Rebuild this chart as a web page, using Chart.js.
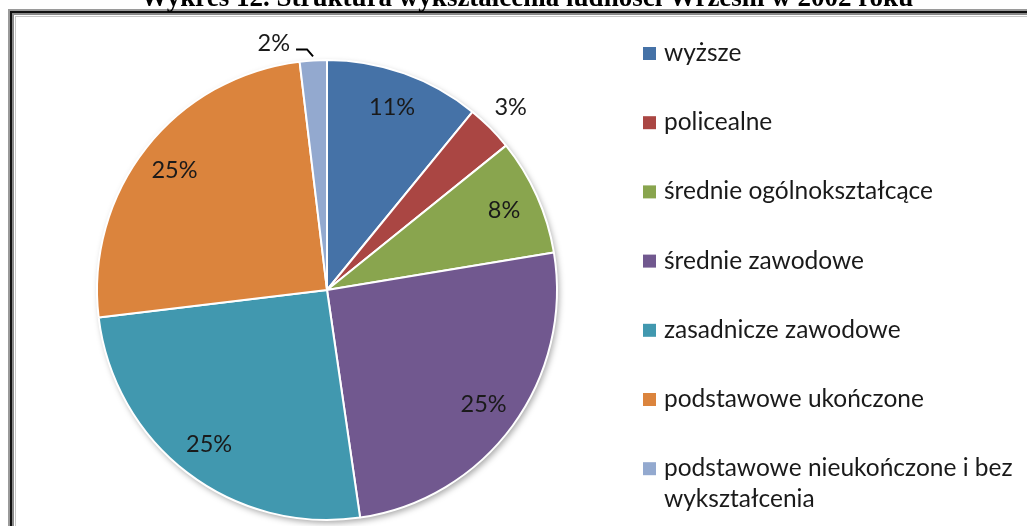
<!DOCTYPE html>
<html>
<head>
<meta charset="utf-8">
<script src="https://cdn.jsdelivr.net/npm/chart.js@4/dist/chart.umd.min.js"></script>
<style>
  html, body { margin: 0; padding: 0; background: #fff; overflow: hidden; }
  #wrap { position: absolute; left: 0; top: 0; width: 1027px; height: 526px; }
</style>
</head>
<body>
<div id="wrap"><canvas id="chart_edu" width="1027" height="526"></canvas></div>
<script>
// ----------------------- data -----------------------

const categories = [
    "wyższe",
    "policealne",
    "średnie ogólnokształcące",
    "średnie zawodowe",
    "zasadnicze zawodowe",
    "podstawowe ukończone",
    "podstawowe nieukończone i bez wykształcenia"
];
const shares = [10.9, 3.3, 8.2, 25.3, 25.4, 25.0, 1.9];
const sliceColors = ["#4572A7", "#AA4643", "#89A54E", "#71588F", "#4198AF", "#DB843D", "#93A9CF"];
const titleText = "Wykres 12. Struktura wykształcenia ludności Wrześni w 2002 roku";

const labelFont = "23.5px Lato";
const legendFont = "24.5px Lato";

// ----------------------- plugins -----------------------

// frame + title behind everything
const framePlugin = {
    id: "frame",
    beforeDraw(chart) {
        const ctx = chart.ctx;
        const w = chart.width, h = chart.height;
        ctx.save();
        ctx.fillStyle = "#fff";
        ctx.fillRect(0, 0, w, h);
        // double frame
        ctx.fillStyle = "#9a9a9a";
        ctx.fillRect(8, 9, w, 2);
        ctx.fillRect(8, 9, 2, h);
        ctx.fillStyle = "#111";
        ctx.fillRect(10, 11, w, 2);
        ctx.fillRect(10, 11, 2, h);
        ctx.fillStyle = "#8a8a8a";
        ctx.fillRect(12, 13, w, 2);
        ctx.fillRect(12, 13, 2, h);
        ctx.fillStyle = "#c8c8c8";
        ctx.fillRect(15, 16, w, 1);
        ctx.fillRect(15, 16, 1, h);
        // title (cut by top edge)
        ctx.fillStyle = "#000";
        ctx.font = "bold 27px 'Liberation Serif'";
        ctx.textAlign = "center";
        ctx.textBaseline = "alphabetic";
        ctx.fillText(titleText, 527, 6);
        ctx.restore();
    },
    beforeDatasetsDraw(chart) {
        // soft shadow under the pie
        const arc = chart.getDatasetMeta(0).data[0];
        if (!arc) return;
        const ctx = chart.ctx;
        ctx.save();
        ctx.shadowColor = "rgba(0,0,0,0.35)";
        ctx.shadowBlur = 6;
        ctx.shadowOffsetX = 2;
        ctx.shadowOffsetY = 3;
        ctx.fillStyle = "#fff";
        ctx.beginPath();
        ctx.arc(arc.x, arc.y, arc.outerRadius, 0, Math.PI * 2);
        ctx.fill();
        ctx.restore();
    }
};

// percentage labels on / beside slices
const pctLabelPlugin = {
    id: "pctLabels",
    afterDatasetsDraw(chart) {
        const ctx = chart.ctx;
        const meta = chart.getDatasetMeta(0);
        const vals = chart.data.datasets[0].data;
        const total = vals.reduce((s, v) => s + v, 0);
        ctx.save();
        ctx.font = labelFont;
        ctx.fillStyle = "#1a1a1a";
        ctx.textBaseline = "middle";
        meta.data.forEach((arc, i) => {
            const pct = Math.round(vals[i] / total * 100) + "%";
            const mid = (arc.startAngle + arc.endAngle) / 2;
            const r = arc.outerRadius;
            if (vals[i] >= 5) {
                ctx.textAlign = "center";
                ctx.fillText(pct, arc.x + Math.cos(mid) * (r - 36), arc.y + Math.sin(mid) * (r - 36));
            } else if (vals[i] >= 2.5) {
                ctx.textAlign = "center";
                ctx.fillText(pct, arc.x + Math.cos(mid) * (r + 29), arc.y + Math.sin(mid) * (r + 29));
            } else {
                // leader line to the left
                const x0 = arc.x + Math.cos(mid) * (r + 4);
                const y0 = arc.y + Math.sin(mid) * (r + 4);
                const x1 = x0 - 6, y1 = y0 - 7;
                const x2 = x1 - 11;
                ctx.strokeStyle = "#000";
                ctx.lineWidth = 2;
                ctx.beginPath();
                ctx.moveTo(x0, y0);
                ctx.lineTo(x1, y1);
                ctx.lineTo(x2, y1);
                ctx.stroke();
                ctx.textAlign = "right";
                ctx.fillText(pct, x2 - 6, y1 - 6);
            }
        });
        ctx.restore();
    }
};

// legend on the right, wrapped like the original
const legendPlugin = {
    id: "sideLegend",
    afterDraw(chart) {
        const ctx = chart.ctx;
        const labels = chart.data.labels;
        const colors = chart.data.datasets[0].backgroundColor;
        const x = 643, y0 = 53, step = 69.2, maxW = 358, lineH = 31;
        ctx.save();
        ctx.font = legendFont;
        ctx.textBaseline = "middle";
        ctx.textAlign = "left";
        labels.forEach((lab, i) => {
            const y = y0 + i * step;
            ctx.fillStyle = colors[i];
            ctx.fillRect(x, y - 6, 13, 13);
            // simple word wrap
            const words = lab.split(" ");
            let line = "", ly = y;
            ctx.fillStyle = "#1a1a1a";
            words.forEach(wd => {
                const test = line ? line + " " + wd : wd;
                if (ctx.measureText(test).width > maxW && line) {
                    ctx.fillText(line, x + 21, ly);
                    line = wd;
                    ly += lineH;
                } else {
                    line = test;
                }
            });
            ctx.fillText(line, x + 21, ly);
        });
        ctx.restore();
    }
};

// ----------------------- chart -----------------------

new Chart(document.getElementById("chart_edu"), {
    type: "pie",
    data: {
        labels: categories,
        datasets: [{
            data: shares,
            backgroundColor: sliceColors,
            borderColor: "#ffffff",
            borderWidth: 2,
            hoverOffset: 0,
            offset: 0
        }]
    },
    options: {
        responsive: false,
        animation: false,
        events: [],
        layout: { padding: { left: 96, right: 469, top: 59, bottom: 5 } },
        plugins: {
            legend: { display: false },
            tooltip: { enabled: false },
            title: { display: false }
        }
    },
    plugins: [framePlugin, pctLabelPlugin, legendPlugin]
});
</script>
</body>
</html>
